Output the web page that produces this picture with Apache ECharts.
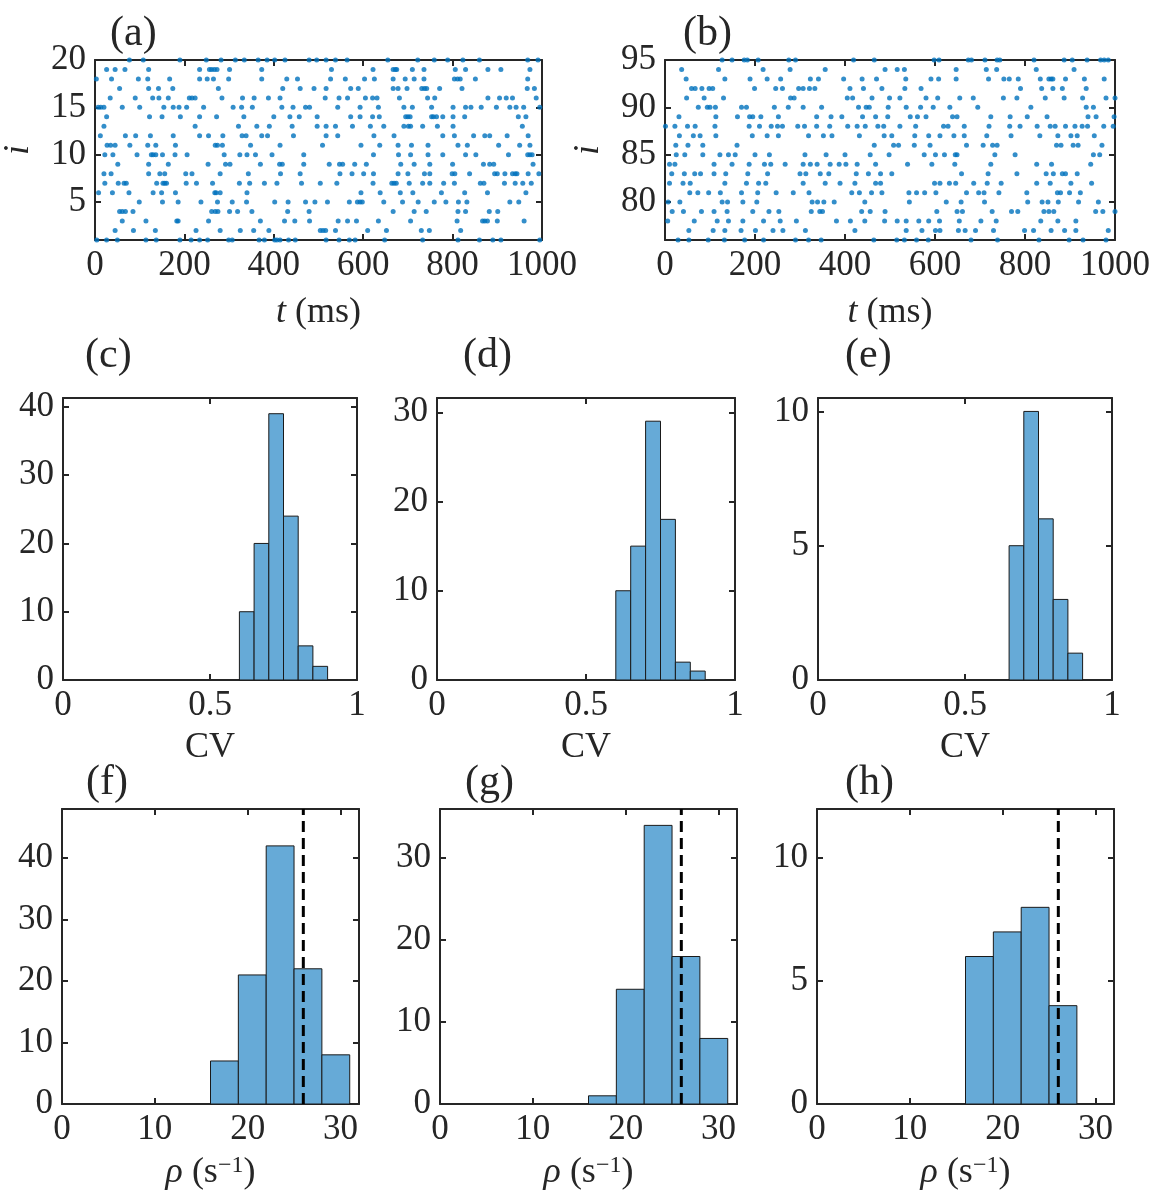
<!DOCTYPE html>
<html>
<head>
<meta charset="utf-8">
<script src="https://cdn.jsdelivr.net/npm/echarts@6/dist/echarts.min.js"></script>
<style>html,body{margin:0;padding:0;background:#fff}#c{width:1161px;height:1196px}</style>
</head>
<body>
<div id="c"></div>
<script>
// ---------- DATA ----------
// Panel (a): spike times (ms) for neurons i = 1..20
const neuronFirstA = 1;
const spikeTimesA = [
 [4,26,50,114,137,190,215,234,252,299,307,367,379,402,407,414,433,448,517,546,569,582,648,733,812,860,890,908,995],
 [45,86,135,226,280,325,355,389,504,510,516,538,610,652,730,748,818],
 [61,114,183,186,254,370,424,447,480,544,565,585,634,706,810,867,872,878,900,960],
 [55,61,68,85,261,269,275,301,319,351,431,479,667,714,741,812,829,882,901],
 [99,151,186,237,274,307,339,402,432,471,492,520,569,587,593,598,646,688,723,759,785,813,832,928,948],
 [8,39,76,130,149,180,268,271,280,340,595,638,683,711,775,827,878,964],
 [22,52,65,70,138,152,156,160,204,227,263,323,346,379,407,462,504,541,622,664,669,674,703,733,749,780,804,862,870,916,940,957,976],
 [20,36,120,145,156,203,217,280,343,415,459,548,575,601,623,678,700,737,749,799,805,838,894,900,917,934,940,944,969,993],
 [51,120,164,253,292,302,370,413,419,467,524,547,554,581,607,684,714,749,800,869,883,892,980],
 [22,40,94,126,130,136,151,179,206,289,324,340,359,396,467,623,679,706,745,778,829,852,925,968,973,978],
 [27,35,45,78,118,136,180,269,274,285,348,414,509,595,637,678,708,745,812,833,903,950,973],
 [12,68,91,124,175,234,254,286,329,338,373,386,444,517,543,624,669,778,804,847,872,883,922,969],
 [20,224,321,362,390,441,497,517,538,576,616,646,691,701,706,733,766,801,956],
 [26,122,150,191,234,272,333,400,436,457,497,572,593,621,636,695,700,705,753,757,764,778,801,827,947,964],
 [7,13,20,61,100,154,175,188,205,243,309,328,352,418,443,471,480,543,593,634,691,710,753,801,829,841,864,898,928,942,959,995],
 [34,90,129,143,164,211,217,224,284,330,356,388,414,515,546,565,605,621,631,681,744,760,879,905,920,934,987],
 [55,120,142,174,276,420,459,490,517,572,589,667,678,698,731,737,742,771,821,967,983],
 [3,37,97,118,167,234,251,265,299,373,429,453,527,560,603,625,667,694,714,736,804,811,817,851,968],
 [26,45,67,120,234,256,261,267,273,301,373,529,622,667,672,675,710,736,806,829,879,908,973],
 [77,108,190,249,282,314,334,365,385,402,425,479,496,517,538,564,655,722,759,789,823,860,968,991]
];
// Panel (b): spike times (ms) for neurons i = 76..95
const neuronFirstB = 76;
const spikeTimesB = [
 [29,53,96,132,177,219,290,319,347,464,515,532,559,585,680,739,831,898,929,980],
 [53,107,133,169,201,240,262,312,422,536,571,601,611,652,667,690,730,799,819,858,888,913,985],
 [6,65,116,141,173,219,256,292,381,412,444,488,516,536,564,586,610,654,702,736,835,873,913],
 [16,41,81,109,138,195,231,253,325,344,350,437,456,489,604,649,661,727,770,784,842,853,864,957,973,1000],
 [7,33,127,139,173,204,327,339,353,376,444,543,625,658,710,806,838,851,874,919,963],
 [55,73,97,123,170,206,247,285,320,415,432,459,482,542,559,577,602,670,697,709,742,804,872,879,899,923],
 [10,40,56,133,181,208,224,307,356,389,422,468,479,599,611,632,646,686,716,747,826,856,902,948],
 [15,43,66,79,109,135,184,228,300,313,345,364,425,452,479,504,659,718,782,847,863,883,890,916],
 [10,22,109,149,187,221,235,267,307,323,338,367,387,402,427,468,539,593,644,724,826,859,946],
 [25,44,84,122,141,156,200,232,311,358,400,456,498,576,601,621,645,649,733,778,952,966],
 [24,51,84,160,465,508,519,554,589,670,707,728,738,870,880,907,918,971],
 [32,63,78,113,194,227,252,319,352,371,432,487,504,555,586,611,642,665,715,769,833,873,902,916,954],
 [1,22,50,67,111,187,210,236,250,261,295,310,337,366,406,427,445,473,486,522,557,619,629,665,720,766,789,827,856,867,890,911,927,939,975,996],
 [31,113,161,188,195,213,252,337,369,393,439,468,495,545,561,580,639,649,724,767,805,849,940,958,998],
 [74,94,100,112,170,181,243,274,307,348,430,447,454,496,536,568,596,633,695,813,936,952],
 [48,87,130,279,287,405,417,460,499,522,580,606,655,685,752,782,845,887,928,980,1000],
 [59,67,82,98,106,199,246,261,297,307,321,333,411,441,482,533,569,790,837,862,883,936],
 [47,133,189,227,257,323,341,397,438,470,535,591,608,647,719,753,765,785,834,853,858,862,890,932,976],
 [37,119,218,278,356,489,516,532,647,714,737,825,909],
 [127,149,176,183,207,275,290,419,465,598,609,674,681,711,738,744,820,887,905,938,968,976,985]
];
// Histograms of CV (c,d,e)
const cvEdgesC = [0.6,0.65,0.7,0.75,0.8,0.85,0.9];
const cvCountsC = [10,20,39,24,5,2];
const cvEdgesD = [0.6,0.65,0.7,0.75,0.8,0.85,0.9];
const cvCountsD = [10,15,29,18,2,1];
const cvEdgesE = [0.65,0.7,0.75,0.8,0.85,0.9];
const cvCountsE = [5,10,6,3,1];
// Histograms of firing rate rho (f,g,h)
const rateEdgesF = [16,19,22,25,28,31];
const rateCountsF = [7,21,42,22,8];
const rateEdgesG = [16,19,22,25,28,31];
const rateCountsG = [1,14,34,18,8];
const rateEdgesH = [16,19,22,25,28];
const rateCountsH = [6,7,8,4];
const rateMarker = 26;
// Tick labels
const tTicks = [0,200,400,600,800,1000];
const iTicksA = [5,10,15,20];
const iTicksB = [80,85,90,95];
const cvTicks = [0,0.5,1];
const rateTicks = [0,10,20,30];
const countTicksC = [0,10,20,30,40];
const countTicksD = [0,10,20,30];
const countTicksE = [0,5,10];
const countTicksF = [0,10,20,30,40];
const countTicksG = [0,10,20,30];
const countTicksH = [0,5,10];
const panelLabels = ['(a)','(b)','(c)','(d)','(e)','(f)','(g)','(h)'];

// ---------- STYLE / LAYOUT ----------
const FONT = "'Liberation Serif','Times New Roman',serif";
const AX = '#262626';
const DOT = '#0072BD';
const BAR = '#66AAD7';
const TICK_FS = 35, NAME_FS = 36, TITLE_FS = 42;

const grids = [
 {left:93,  top:60,  width:449, height:180},
 {left:665, top:60,  width:450, height:180},
 {left:63,  top:398, width:294, height:282},
 {left:437, top:398, width:298, height:282},
 {left:818, top:398, width:294, height:282},
 {left:62,  top:809, width:297, height:295},
 {left:440, top:809, width:297, height:295},
 {left:817, top:809, width:297, height:295}
];
const titlePos = [[110,13],[683,13],[85,335],[463,335],[845,335],[86,762],[465,762],[845,762]];

const richName = {
 it:{fontStyle:'italic',fontFamily:FONT,fontSize:NAME_FS,color:AX},
 rm:{fontFamily:FONT,fontSize:NAME_FS,color:AX},
 sup:{fontFamily:FONT,fontSize:24,color:AX,verticalAlign:'top',padding:[0,0,14,0]}
};
const plain = v => String(v);

function axisCommon(ticks){
 return {
  axisLine:{show:true,onZero:false,lineStyle:{color:AX,width:2}},
  axisTick:{show:true,inside:true,length:6,customValues:ticks,lineStyle:{color:AX,width:2}},
  splitLine:{show:false}
 };
}
const xAxes = [], yAxes = [];
function addAxes(g, xr, xt, xname, xgap, yr, yt, yname, ygap){
 xAxes.push(Object.assign({type:'value',gridIndex:g,position:'bottom',min:xr[0],max:xr[1],
   name:xname,nameLocation:'middle',nameGap:xgap,nameTextStyle:{fontFamily:FONT,fontSize:NAME_FS,color:AX,rich:richName},
   axisLabel:{customValues:xt,formatter:plain,fontFamily:FONT,fontSize:TICK_FS,color:AX,margin:8}}, axisCommon(xt)));
 xAxes.push(Object.assign({type:'value',gridIndex:g,position:'top',min:xr[0],max:xr[1],axisLabel:{show:false}}, axisCommon(xt)));
 yAxes.push(Object.assign({type:'value',gridIndex:g,position:'left',min:yr[0],max:yr[1],
   name:yname,nameLocation:'middle',nameGap:ygap,nameTextStyle:{fontFamily:FONT,fontSize:NAME_FS,color:AX,rich:richName},
   axisLabel:{customValues:yt,formatter:plain,fontFamily:FONT,fontSize:TICK_FS,color:AX,margin:9}}, axisCommon(yt)));
 yAxes.push(Object.assign({type:'value',gridIndex:g,position:'right',min:yr[0],max:yr[1],axisLabel:{show:false}}, axisCommon(yt)));
}
const tName = '{it|t} {rm|(ms)}';
const rhoName = '{it|ρ} {rm|(s}{sup|−1}{rm|)}';
addAxes(0,[0,1000],tTicks,tName,55,[1,20],iTicksA,'{it|i}',58);
addAxes(1,[0,1000],tTicks,tName,55,[76,95],iTicksB,'{it|i}',58);
addAxes(2,[0,1],cvTicks,'CV',50,[0,41.3],countTicksC,'',0);
addAxes(3,[0,1],cvTicks,'CV',50,[0,31.6],countTicksD,'',0);
addAxes(4,[0,1],cvTicks,'CV',50,[0,10.5],countTicksE,'',0);
addAxes(5,[0,32],rateTicks,rhoName,50,[0,48],countTicksF,'',0);
addAxes(6,[0,32],rateTicks,rhoName,50,[0,36],countTicksG,'',0);
addAxes(7,[0,32],rateTicks,rhoName,50,[0,12],countTicksH,'',0);

function rasterData(times, first){
 const out = [];
 times.forEach((row,k)=>row.forEach(t=>out.push([t, first+k])));
 return out;
}
function histData(edges, counts){ return counts.map((c,k)=>[edges[k], edges[k+1], c]); }

function histSeries(g, edges, counts){
 return {type:'custom', xAxisIndex:2*g, yAxisIndex:2*g, clip:false,
  data: histData(edges, counts), encode:{x:[0,1],y:2},
  renderItem:function(params, api){
   const p0 = api.coord([api.value(0), api.value(2)]);
   const p1 = api.coord([api.value(1), 0]);
   return {type:'rect', shape:{x:p0[0], y:p0[1], width:p1[0]-p0[0], height:p1[1]-p0[1]},
     style:{fill:BAR, stroke:'#1a1a1a', lineWidth:1}};
  }};
}
function markerSeries(g, ymax){
 return {type:'line', xAxisIndex:2*g, yAxisIndex:2*g, symbol:'none', silent:true, z:5,
  data:[[rateMarker,0],[rateMarker,ymax]],
  lineStyle:{color:'#000',width:3,type:[11,6]}};
}

const series = [
 {type:'scatter', xAxisIndex:0, yAxisIndex:0, clip:false, symbolSize:5, itemStyle:{color:DOT}, data:rasterData(spikeTimesA, neuronFirstA)},
 {type:'scatter', xAxisIndex:2, yAxisIndex:2, clip:false, symbolSize:5, itemStyle:{color:DOT}, data:rasterData(spikeTimesB, neuronFirstB)},
 histSeries(2, cvEdgesC, cvCountsC),
 histSeries(3, cvEdgesD, cvCountsD),
 histSeries(4, cvEdgesE, cvCountsE),
 histSeries(5, rateEdgesF, rateCountsF),
 histSeries(6, rateEdgesG, rateCountsG),
 histSeries(7, rateEdgesH, rateCountsH),
 markerSeries(5, 48), markerSeries(6, 36), markerSeries(7, 12)
];

const titles = panelLabels.map((t,k)=>({text:t, left:titlePos[k][0], top:titlePos[k][1], padding:0,
 textStyle:{fontFamily:FONT,fontSize:TITLE_FS,fontWeight:'normal',color:AX}}));

const chart = echarts.init(document.getElementById('c'), null, {renderer:'canvas'});
chart.setOption({
 animation:false,
 backgroundColor:'#ffffff',
 title:titles,
 grid:grids.map(g=>Object.assign({containLabel:false}, g)),
 xAxis:xAxes, yAxis:yAxes, series:series
});
</script>
</body>
</html>
